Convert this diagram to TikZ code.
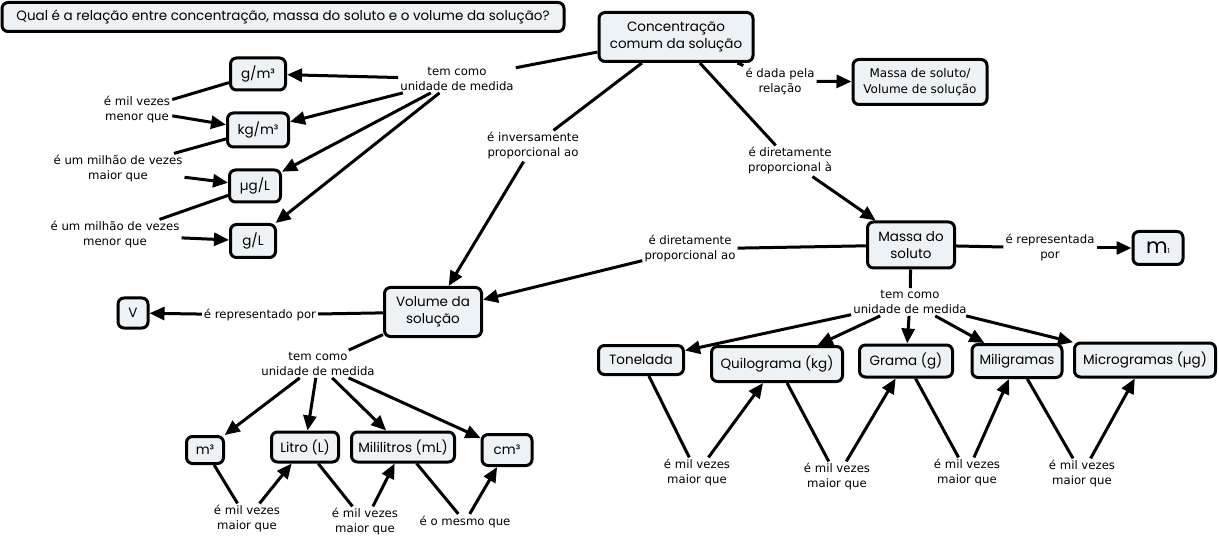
\documentclass[tikz,border=0pt]{standalone}
\usepackage{fontspec}
\setmainfont{Poppins}
\newfontfamily\linkfont{DejaVu Sans}
\usetikzlibrary{arrows.meta}
\definecolor{conceptfill}{RGB}{236,242,245}
\begin{document}
\begin{tikzpicture}
[x=1pt,y=-1pt,
 conceptdecorate/.style={shape=rectangle,rounded corners=6pt,draw,line width=3pt,fill=conceptfill,inner sep=2pt,align=center,font=\fontsize{13.5}{17}\selectfont},
 linkdecorate/.style={inner sep=2pt,align=center,font=\linkfont\fontsize{11.7}{15}\selectfont},
 linedecorate/.style={-,line width=3pt},
 arrowdecorate/.style={-{Triangle[length=15pt,width=13pt]},line width=3pt}]
\useasboundingbox (0,0) rectangle (1219,540);
%%% question
\node (q) at (283,17) [conceptdecorate,minimum width=562pt,minimum height=29pt] {Qual é a relação entre concentração, massa do soluto e o volume da solução?};
%
%%% concentracao comum
% nodes or concepts
\node (conc) at (676,37) [conceptdecorate,minimum width=154pt,minimum height=49pt] {Concentração\\comum da solução};
\node (massavol) at (920,82) [conceptdecorate,minimum width=134pt,minimum height=45pt,font=\linkfont\fontsize{12}{16}\selectfont] {Massa de soluto/\\Volume de solução};
\node (gm3) at (258,74) [conceptdecorate,minimum width=55pt,minimum height=32pt] {g/m³};
\node (kgm3) at (258,130) [conceptdecorate,minimum width=61pt,minimum height=34pt] {kg/m³};
\node (ugl) at (255,186) [conceptdecorate,minimum width=51pt,minimum height=32pt] {µg/L};
\node (gl) at (253,241) [conceptdecorate,minimum width=45pt,minimum height=33pt] {g/L};
% linking phrases
\node (tem1) at (457,79) [linkdecorate] {tem como\\unidade de medida};
\node (inv) at (533,146) [linkdecorate] {é inversamente\\proporcional ao};
\node (dada) at (780,81) [linkdecorate] {é dada pela\\relação};
\node (dir1) at (790,161) [linkdecorate] {é diretamente\\proporcional à};
\node (milmenor) at (137,110) [linkdecorate] {é mil vezes\\menor que};
\node (milhaomaior) at (118,169) [linkdecorate] {é um milhão de vezes\\maior que};
\node (milhaomenor) at (115,235) [linkdecorate] {é um milhão de vezes\\menor que};
% edges or lines
\path
(conc) edge[linedecorate] (tem1)
(tem1) edge[arrowdecorate] (gm3)
(tem1) edge[arrowdecorate] (kgm3)
(tem1) edge[arrowdecorate] (ugl)
(tem1) edge[arrowdecorate] (gl)
(gm3) edge[linedecorate] (milmenor)
(milmenor) edge[arrowdecorate] (kgm3)
(kgm3) edge[linedecorate] (milhaomaior)
(milhaomaior) edge[arrowdecorate] (ugl)
(ugl) edge[linedecorate] (milhaomenor)
(milhaomenor) edge[arrowdecorate] (gl)
(conc) edge[linedecorate] (dada)
(dada) edge[arrowdecorate] (massavol);
%
%%% volume da solucao
% nodes or concepts
\node (vol) at (433,312) [conceptdecorate,minimum width=97pt,minimum height=49pt] {Volume da\\solução};
\node (v) at (133,313) [conceptdecorate,minimum width=30pt,minimum height=30pt] {V};
\node (m3) at (205,450) [conceptdecorate,minimum width=37pt,minimum height=27pt] {m³};
\node (litro) at (305,447) [conceptdecorate,minimum width=67pt,minimum height=30pt] {Litro (L)};
\node (ml) at (403,447) [conceptdecorate,minimum width=103pt,minimum height=30pt] {Mililitros (mL)};
\node (cm3) at (507,450) [conceptdecorate,minimum width=50pt,minimum height=31pt] {cm³};
% linking phrases
\node (rep2) at (260,315) [linkdecorate] {é representado por};
\node (tem3) at (318,364) [linkdecorate] {tem como\\unidade de medida};
\node (va) at (247,519) [linkdecorate] {é mil vezes\\maior que};
\node (vb) at (365,522) [linkdecorate] {é mil vezes\\maior que};
\node (vc) at (465,522) [linkdecorate] {é o mesmo que};
% edges or lines
\path
(conc) edge[linedecorate] (inv)
(inv) edge[arrowdecorate] (vol)
(vol) edge[linedecorate] (rep2)
(rep2) edge[arrowdecorate] (v)
(vol) edge[linedecorate] (tem3)
(tem3) edge[arrowdecorate] (m3)
(tem3) edge[arrowdecorate] (litro)
(tem3) edge[arrowdecorate] (ml)
(tem3) edge[arrowdecorate] (cm3)
(m3) edge[linedecorate] (va)
(va) edge[arrowdecorate] (litro)
(litro) edge[linedecorate] (vb)
(vb) edge[arrowdecorate] (ml)
(ml) edge[linedecorate] (vc)
(vc) edge[arrowdecorate] (cm3);
%
%%% massa do soluto
% nodes or concepts
\node (massa) at (911,245) [conceptdecorate,minimum width=87pt,minimum height=46pt] {Massa do\\soluto};
\node (m1) at (1158,248) [conceptdecorate,minimum width=50pt,minimum height=33pt] {{\fontsize{21}{21}\selectfont m}{\fontsize{7}{7}\selectfont 1}};
\node (ton) at (641,360) [conceptdecorate,minimum width=85pt,minimum height=29pt] {Tonelada};
\node (quilo) at (777,364) [conceptdecorate,minimum width=131pt,minimum height=35pt] {Quilograma (kg)};
\node (grama) at (906,361) [conceptdecorate,minimum width=93pt,minimum height=32pt] {Grama (g)};
\node (mili) at (1017,361) [conceptdecorate,minimum width=90pt,minimum height=33pt] {Miligramas};
\node (micro) at (1145,360) [conceptdecorate,minimum width=141pt,minimum height=34pt] {Microgramas (µg)};
% linking phrases
\node (dir2) at (690,249) [linkdecorate] {é diretamente\\proporcional ao};
\node (rep1) at (1050,248) [linkdecorate] {é representada\\por};
\node (tem2) at (910,302) [linkdecorate] {tem como\\unidade de medida};
\node (ma) at (697,473) [linkdecorate] {é mil vezes\\maior que};
\node (mb) at (837,477) [linkdecorate] {é mil vezes\\maior que};
\node (mc) at (967,473) [linkdecorate] {é mil vezes\\maior que};
\node (md) at (1082,474) [linkdecorate] {é mil vezes\\maior que};
% edges or lines
\path
(conc) edge[linedecorate] (dir1)
(dir1) edge[arrowdecorate] (massa)
(massa) edge[linedecorate] (dir2)
(dir2) edge[arrowdecorate] (vol)
(massa) edge[linedecorate] (rep1)
(rep1) edge[arrowdecorate] (m1)
(massa) edge[linedecorate] (tem2)
(tem2) edge[arrowdecorate] (ton)
(tem2) edge[arrowdecorate] (quilo)
(tem2) edge[arrowdecorate] (grama)
(tem2) edge[arrowdecorate] (mili)
(tem2) edge[arrowdecorate] (micro)
(ton) edge[linedecorate] (ma)
(ma) edge[arrowdecorate] (quilo)
(quilo) edge[linedecorate] (mb)
(mb) edge[arrowdecorate] (grama)
(grama) edge[linedecorate] (mc)
(mc) edge[arrowdecorate] (mili)
(mili) edge[linedecorate] (md)
(md) edge[arrowdecorate] (micro);
\end{tikzpicture}
\end{document}
